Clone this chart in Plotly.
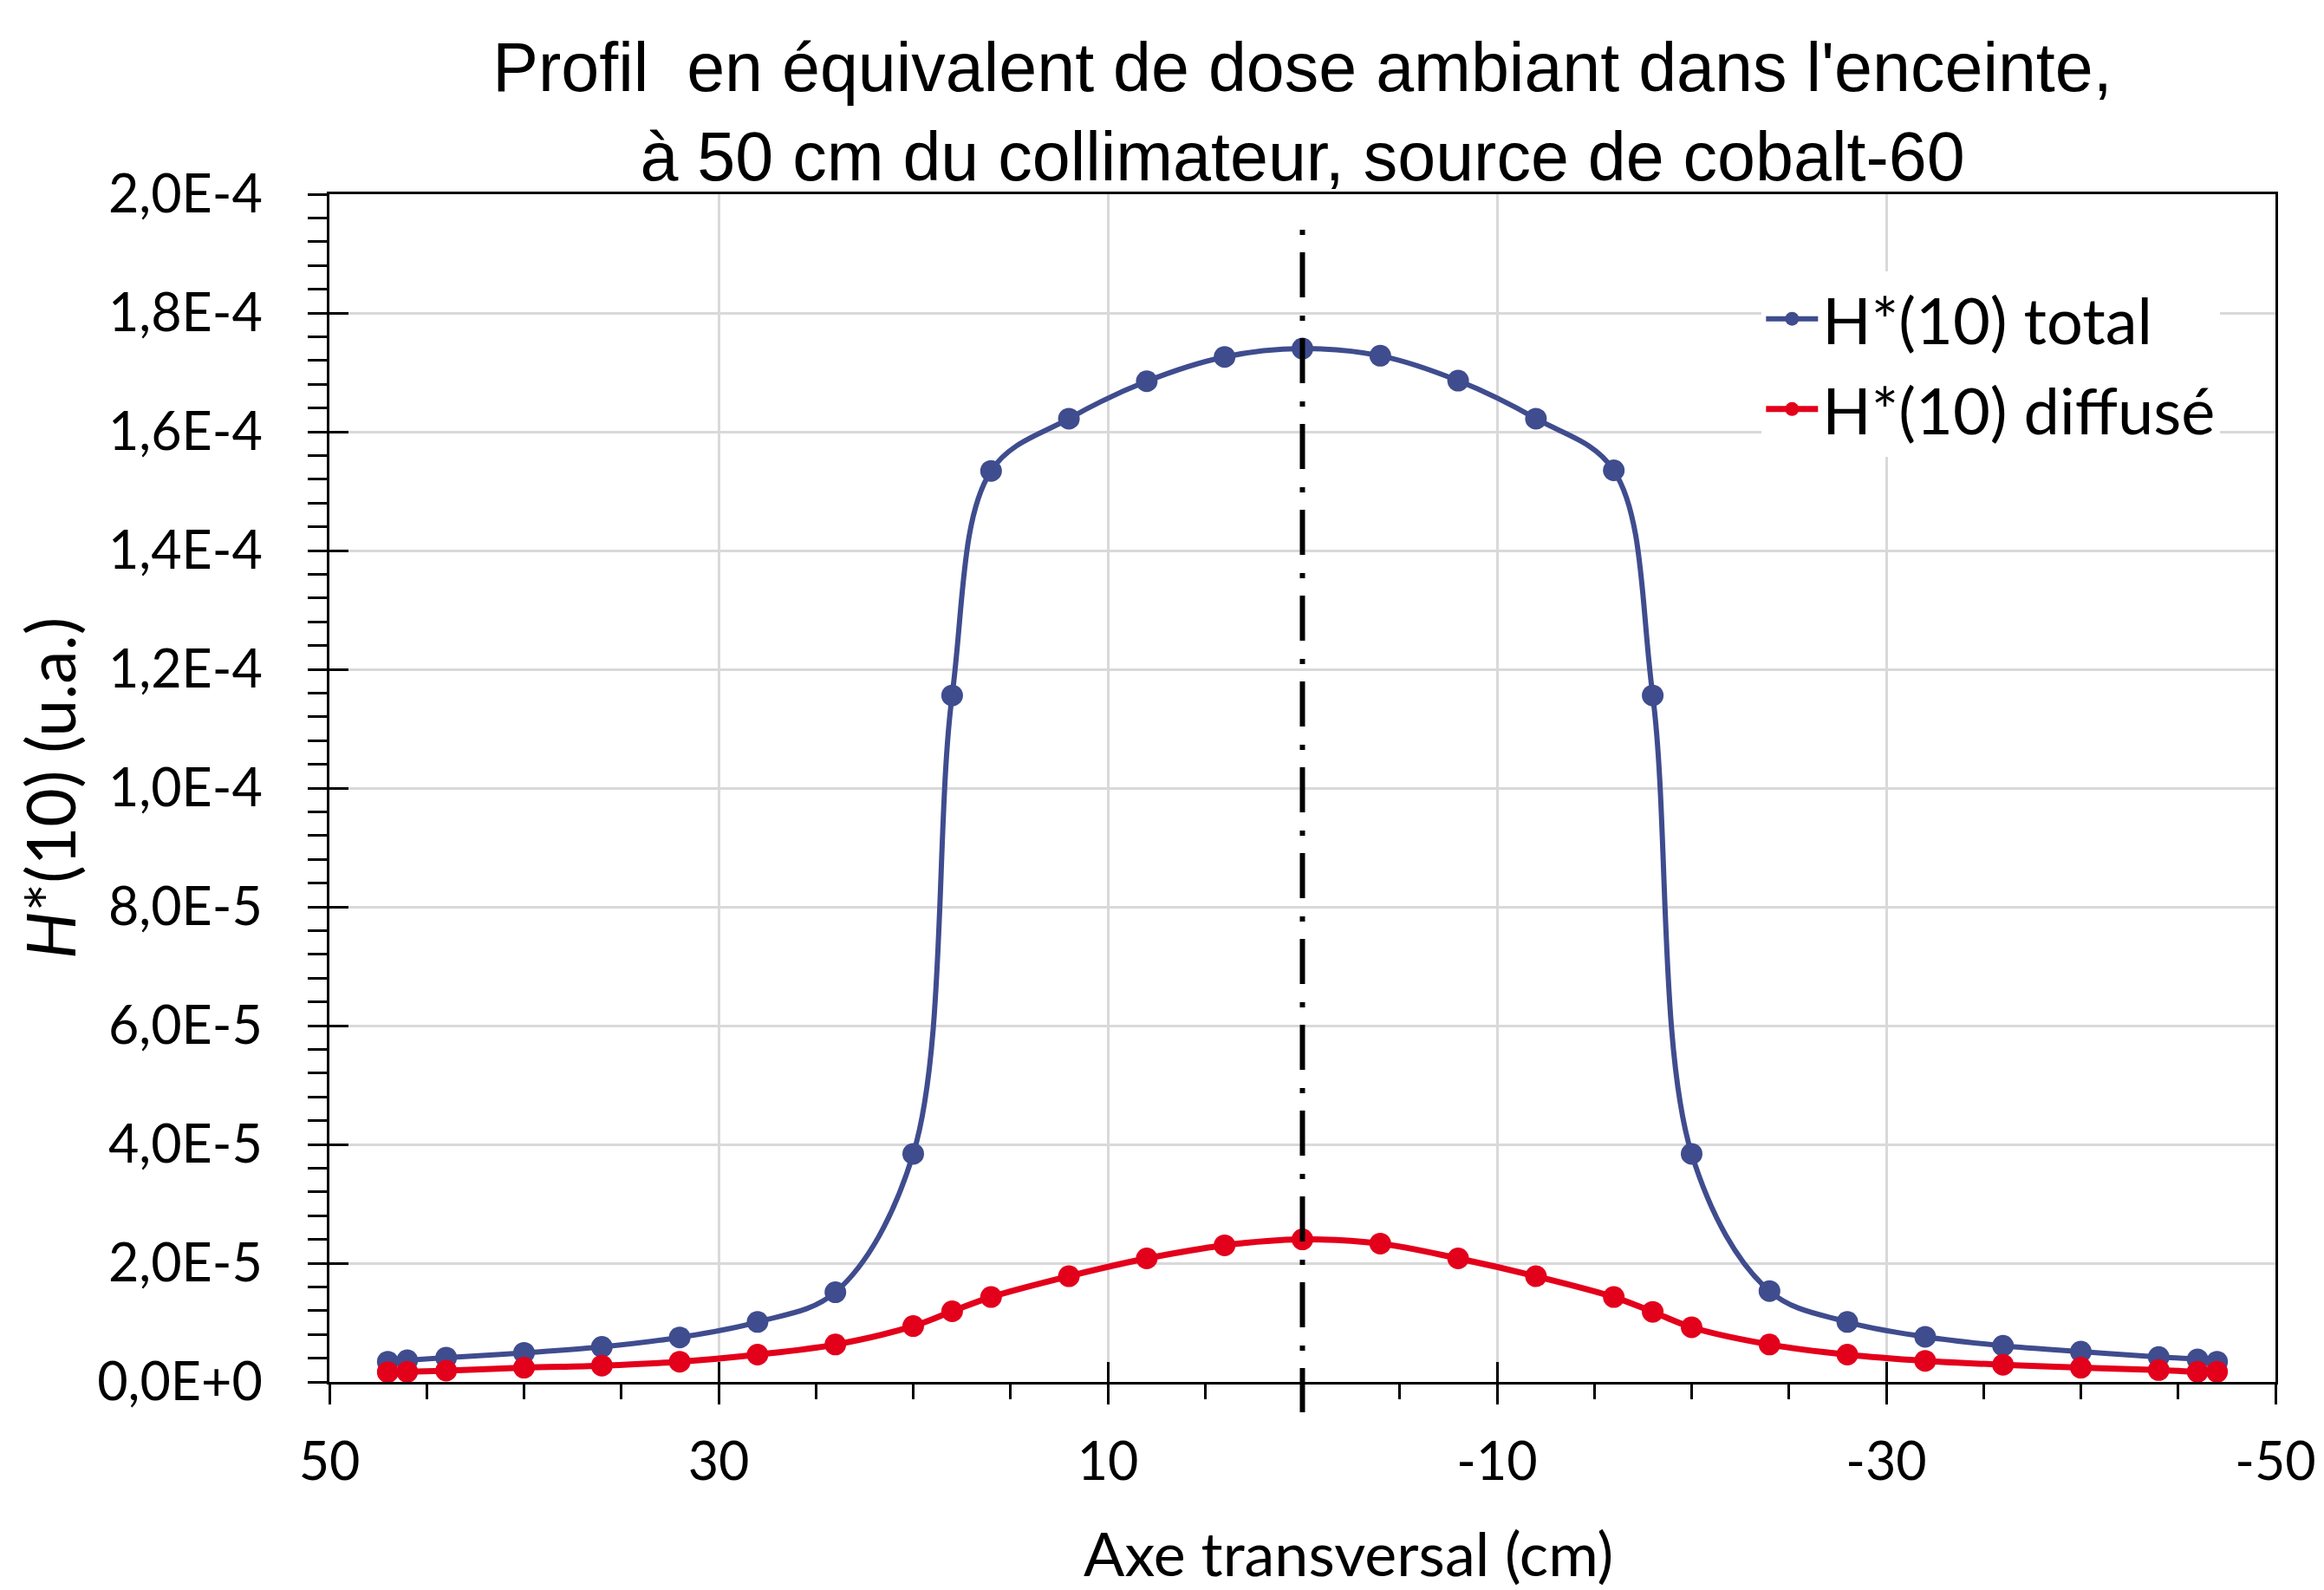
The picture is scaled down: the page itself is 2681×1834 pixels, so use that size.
import plotly.graph_objects as go

# ---- data ----
x_cm = [47, 46, 44, 40, 36, 32, 28, 24, 20, 18, 16, 12, 8, 4, 0,
        -4, -8, -12, -16, -18, -20, -24, -28, -32, -36, -40, -44, -46, -47]
h_total = [3.4e-6, 3.65e-6, 4.1e-6, 4.9e-6, 5.9e-6, 7.5e-6, 10.1e-6, 15.1e-6, 38.4e-6,
           115.6e-6, 153.4e-6, 162.2e-6, 168.5e-6, 172.6e-6, 174.0e-6,
           172.8e-6, 168.6e-6, 162.2e-6, 153.5e-6, 115.6e-6, 38.4e-6,
           15.3e-6, 10.1e-6, 7.6e-6, 6.1e-6, 5.1e-6, 4.2e-6, 3.8e-6, 3.4e-6]
h_diffuse = [1.65e-6, 1.7e-6, 1.9e-6, 2.4e-6, 2.75e-6, 3.4e-6, 4.6e-6, 6.3e-6, 9.4e-6,
             11.9e-6, 14.3e-6, 17.8e-6, 20.8e-6, 23.0e-6, 24.0e-6,
             23.3e-6, 20.8e-6, 17.8e-6, 14.3e-6, 11.8e-6, 9.2e-6,
             6.3e-6, 4.6e-6, 3.55e-6, 2.9e-6, 2.4e-6, 2.0e-6, 1.7e-6, 1.7e-6]
center_x = 0

x_tick_vals = [50, 30, 10, -10, -30, -50]
x_tick_text = ["50", "30", "10", "-10", "-30", "-50"]
y_tick_vals = [0, 2e-5, 4e-5, 6e-5, 8e-5, 1e-4, 1.2e-4, 1.4e-4, 1.6e-4, 1.8e-4, 2e-4]
y_tick_text = ["0,0E+0", "2,0E-5", "4,0E-5", "6,0E-5", "8,0E-5", "1,0E-4",
               "1,2E-4", "1,4E-4", "1,6E-4", "1,8E-4", "2,0E-4"]

BLUE = "#3F4C8E"
RED = "#E3001B"
FONT = "Lato"
TITLE_FONT = "Liberation Sans"
GRID = "#D9D9D9"

fig = go.Figure()
fig.add_trace(go.Scatter(
    x=x_cm, y=h_total, name="H*(10) total", mode="lines+markers",
    line=dict(color=BLUE, width=6, shape="spline", smoothing=1),
    marker=dict(color=BLUE, size=25), legendgroup="a"))
fig.add_trace(go.Scatter(
    x=x_cm, y=h_diffuse, name="H*(10) diffusé", mode="lines+markers",
    line=dict(color=RED, width=7, shape="spline", smoothing=1),
    marker=dict(color=RED, size=25), legendgroup="b"))
# invisible trace on overlay axes (inner half of the crossing ticks)
fig.add_trace(go.Scatter(x=[None], y=[None], xaxis="x2", yaxis="y2",
                         showlegend=False, hoverinfo="skip"))

fig.add_shape(type="line", xref="x", yref="paper",
              x0=center_x, x1=center_x, y0=0.970, y1=-0.0255,
              line=dict(color="black", width=6, dash="6px,20px,52px,21px"),
              layer="above")

x_range = [50, -50]
y_range = [0, 2e-4]

fig.add_annotation(text="Axe transversal (cm)", xref="paper", yref="paper",
                   x=0.5236, y=-0.1436, xanchor="center", yanchor="middle",
                   showarrow=False, font=dict(family=FONT, size=70, color="black"))

fig.update_layout(
    width=2681, height=1834, autosize=False,
    paper_bgcolor="white", plot_bgcolor="white",
    margin=dict(l=380, r=56, t=224, b=240, autoexpand=False),
    font=dict(family=FONT, color="black"),
    title=dict(
        text="Profil  en équivalent de dose ambiant dans l'enceinte,<br>à 50 cm du collimateur, source de cobalt-60",
        font=dict(family=TITLE_FONT, size=79, color="black"),
        x=0.5, xref="paper", xanchor="center",
        y=1 - 105 / 1834, yref="container", yanchor="top"),
    xaxis=dict(
        range=x_range, tickmode="array", tickvals=x_tick_vals, ticktext=x_tick_text,
        ticks="outside", ticklen=23, tickwidth=3, tickcolor="black",
        showline=True, linecolor="black", linewidth=3, mirror=True,
        showgrid=True, gridcolor=GRID, gridwidth=3, zeroline=False,
        tickfont=dict(family=FONT, size=61), ticklabelstandoff=14, automargin=False,
        minor=dict(ticks="outside", ticklen=17, tickwidth=3, tickcolor="black",
                   tickmode="linear", tick0=0, dtick=5, showgrid=False)),
    yaxis=dict(
        range=y_range, tickmode="array", tickvals=y_tick_vals, ticktext=y_tick_text,
        ticks="outside", ticklen=22, tickwidth=3, tickcolor="black",
        showline=True, linecolor="black", linewidth=3, mirror=True,
        showgrid=True, gridcolor=GRID, gridwidth=3, zeroline=False,
        tickfont=dict(family=FONT, size=61), ticklabelstandoff=40, automargin=False,
        minor=dict(ticks="outside", ticklen=22, tickwidth=3, tickcolor="black",
                   tickmode="linear", tick0=0, dtick=4e-6, showgrid=False),
        title=dict(text="<i>H</i>*(10) (u.a.)", font=dict(family=FONT, size=77), standoff=0)),
    xaxis2=dict(
        range=x_range, overlaying="x", anchor="y2", side="bottom",
        tickmode="array", tickvals=x_tick_vals, ticks="inside", ticklen=23, tickwidth=3,
        tickcolor="black", showticklabels=False, showgrid=False, zeroline=False, showline=False),
    yaxis2=dict(
        range=y_range, overlaying="y", anchor="x2", side="left",
        tickmode="array", tickvals=y_tick_vals, ticks="inside", ticklen=22, tickwidth=3,
        tickcolor="black", showticklabels=False, showgrid=False, zeroline=False, showline=False),
    legend=dict(
        x=0.736, y=0.935, xanchor="left", yanchor="top",
        bgcolor="white", borderwidth=0,
        font=dict(family=FONT, size=74, color="black"),
        traceorder="grouped", tracegroupgap=5, itemwidth=60),
    showlegend=True,
)

fig.write_html("out.html", config={"displayModeBar": False},
               post_script="document.body.style.margin='0px';document.body.style.overflow='hidden';")
